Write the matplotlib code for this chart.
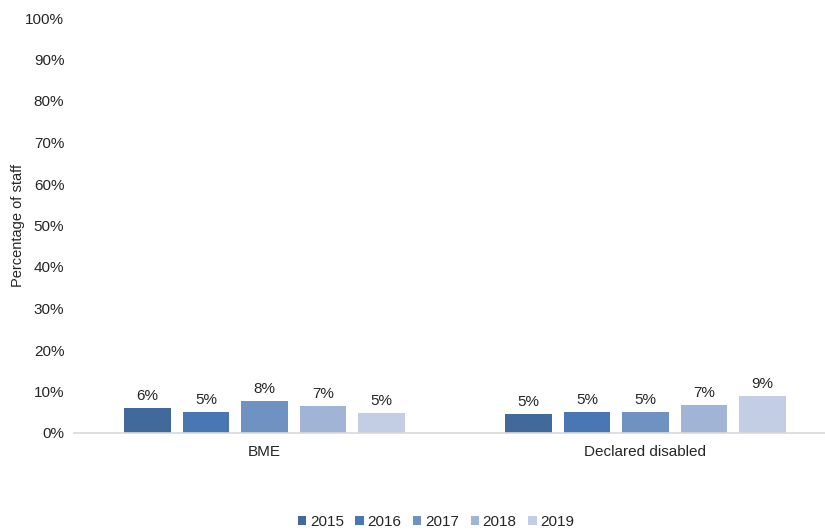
import matplotlib
matplotlib.use("Agg")
import matplotlib.pyplot as plt
import numpy as np

plt.rcParams['font.family'] = ['Liberation Sans', 'DejaVu Sans']

categories = ["BME", "Declared disabled"]
years = ["2015", "2016", "2017", "2018", "2019"]
values = {
    "2015": [6.1, 4.6],
    "2016": [5.1, 5.0],
    "2017": [7.6, 5.0],
    "2018": [6.6, 6.8],
    "2019": [4.9, 9.0],
}
colors = ["#41699b", "#4877b4", "#7092c3", "#a1b4d6", "#c3cde3"]
yticks = [0, 10, 20, 30, 40, 50, 60, 70, 80, 90, 100]

fig = plt.figure(figsize=(8.25, 5.30), dpi=100)
ax = fig.add_axes([74 / 825, 97 / 530, 762 / 825, 415 / 530])

x = np.arange(len(categories))
width = 0.121
step = 0.1535
for i, yr in enumerate(years):
    pos = x + (i - 2) * step
    bars = ax.bar(pos, values[yr], width, color=colors[i], label=yr, zorder=2)
    for b, v in zip(bars, values[yr]):
        ax.text(b.get_x() + b.get_width() / 2, v + 1.2, f"{round(v):d}%",
                ha="center", va="bottom", fontsize=11, color="#262626")

ax.set_xlim(-0.5, 1.5)
ax.set_ylim(0, 100)
ax.set_yticks(yticks)
ax.set_yticklabels([f"{t}%" for t in yticks])
ax.set_xticks(x)
ax.set_xticklabels(categories)
ax.tick_params(axis="both", length=0, labelsize=11, colors="#262626")
ax.tick_params(axis="x", pad=9)
ax.tick_params(axis="y", pad=7)
for s in ["top", "right", "left"]:
    ax.spines[s].set_visible(False)
ax.spines["bottom"].set_color("#d9d9d9")
ax.spines["bottom"].set_linewidth(1.2)

ax.set_ylabel("Percentage of staff", fontsize=10.5, color="#262626")
ax.yaxis.set_label_coords((25 - 74) / 762, 0.5)

fig.legend(loc="center", bbox_to_anchor=(436 / 825, 1 - 522 / 530), ncol=5,
           frameon=False, fontsize=11, handlelength=0.55, handleheight=0.55,
           handletextpad=0.25, columnspacing=0.75, labelcolor="#262626")

fig.savefig("out.png", dpi=100)
